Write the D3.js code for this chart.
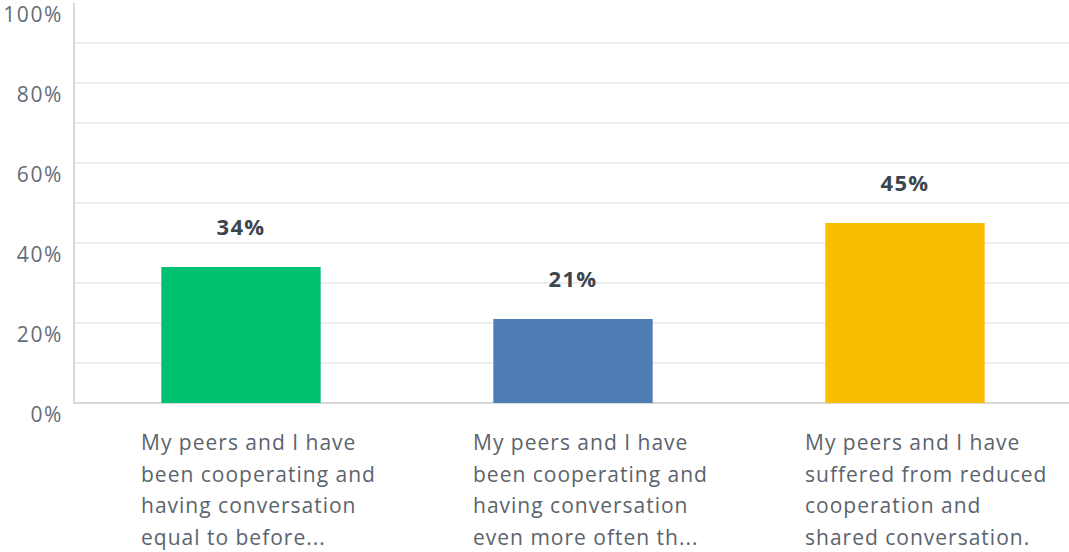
<!DOCTYPE html>
<meta charset="utf-8">
<style>
body { margin: 0; background: #fff; }
.grid line { stroke: #ededed; stroke-width: 2px; }
.axis text { fill: #636d77; font-size: 21px; letter-spacing: 1.6px; font-family: "Open Sans", sans-serif; }
.value { fill: #3b4550; font-size: 22px; font-weight: bold; letter-spacing: 1.4px; font-family: "Open Sans", sans-serif; }
.cat { fill: #5b646d; font-size: 21px; letter-spacing: 1px; font-family: "Open Sans", sans-serif; }
</style>
<svg width="1069" height="552"></svg>
<script src="https://cdn.jsdelivr.net/npm/d3@7"></script>
<script>

// Answer choices (wrapped as shown)
var categories = [
  ["My peers and I have", "been cooperating and", "having conversation", "equal to before..."],
  ["My peers and I have", "been cooperating and", "having conversation", "even more often th..."],
  ["My peers and I have", "suffered from reduced", "cooperation and", "shared conversation."]
];
var values = [34, 21, 45];
var colors = ["#00bf6f", "#507cb6", "#f9be00"];
var yTicks = [0, 20, 40, 60, 80, 100];

var svg = d3.select("svg"),
    plotLeft = 75, plotRight = 1071, plotTop = 3, plotBottom = 403;

var x = d3.scaleBand()
    .domain(d3.range(values.length))
    .range([plotLeft, plotRight])
    .paddingInner(0.52)
    .paddingOuter(0.26);

var y = d3.scaleLinear().domain([0, 100]).range([plotBottom, plotTop]);

// gridlines every 10%
svg.append("g").attr("class", "grid")
  .selectAll("line")
  .data(d3.range(10, 100, 10))
  .enter().append("line")
    .attr("x1", plotLeft).attr("x2", plotRight)
    .attr("y1", function(d) { return y(d); })
    .attr("y2", function(d) { return y(d); });

// axis lines
svg.append("line")
    .attr("x1", plotLeft - 1).attr("x2", plotLeft - 1).attr("y1", plotTop).attr("y2", plotBottom)
    .attr("stroke", "#d9d9d9").attr("stroke-width", 2);
svg.append("line")
    .attr("x1", plotLeft - 2).attr("x2", plotRight).attr("y1", plotBottom).attr("y2", plotBottom)
    .attr("stroke", "#d9d9d9").attr("stroke-width", 2);

// y tick labels
svg.append("g").attr("class", "axis")
  .selectAll("text")
  .data(yTicks)
  .enter().append("text")
    .attr("x", 63)
    .attr("y", function(d) { return y(d) + 19; })
    .attr("text-anchor", "end")
    .text(function(d) { return d + "%"; });

// bars
svg.append("g")
  .selectAll("rect")
  .data(values)
  .enter().append("rect")
    .attr("x", function(d, i) { return x(i); })
    .attr("y", function(d) { return y(d); })
    .attr("width", x.bandwidth())
    .attr("height", function(d) { return plotBottom - y(d); })
    .attr("fill", function(d, i) { return colors[i]; });

// value labels
svg.append("g")
  .selectAll("text")
  .data(values)
  .enter().append("text")
    .attr("class", "value")
    .attr("x", function(d, i) { return x(i) + x.bandwidth() / 2; })
    .attr("y", function(d) { return y(d) - 32; })
    .attr("text-anchor", "middle")
    .text(function(d) { return d + "%"; });

// category labels
var cat = svg.append("g")
  .selectAll("text")
  .data(categories)
  .enter().append("text")
    .attr("class", "cat")
    .attr("x", function(d, i) { return x(i) + x.bandwidth() / 2 - 100; })
    .attr("y", 450);

cat.each(function(lines) {
  var t = d3.select(this), x0 = t.attr("x");
  t.selectAll("tspan")
    .data(lines)
    .enter().append("tspan")
      .attr("x", x0)
      .attr("dy", function(d, i) { return i ? 31.5 : 0; })
      .text(function(d) { return d; });
});

</script>
